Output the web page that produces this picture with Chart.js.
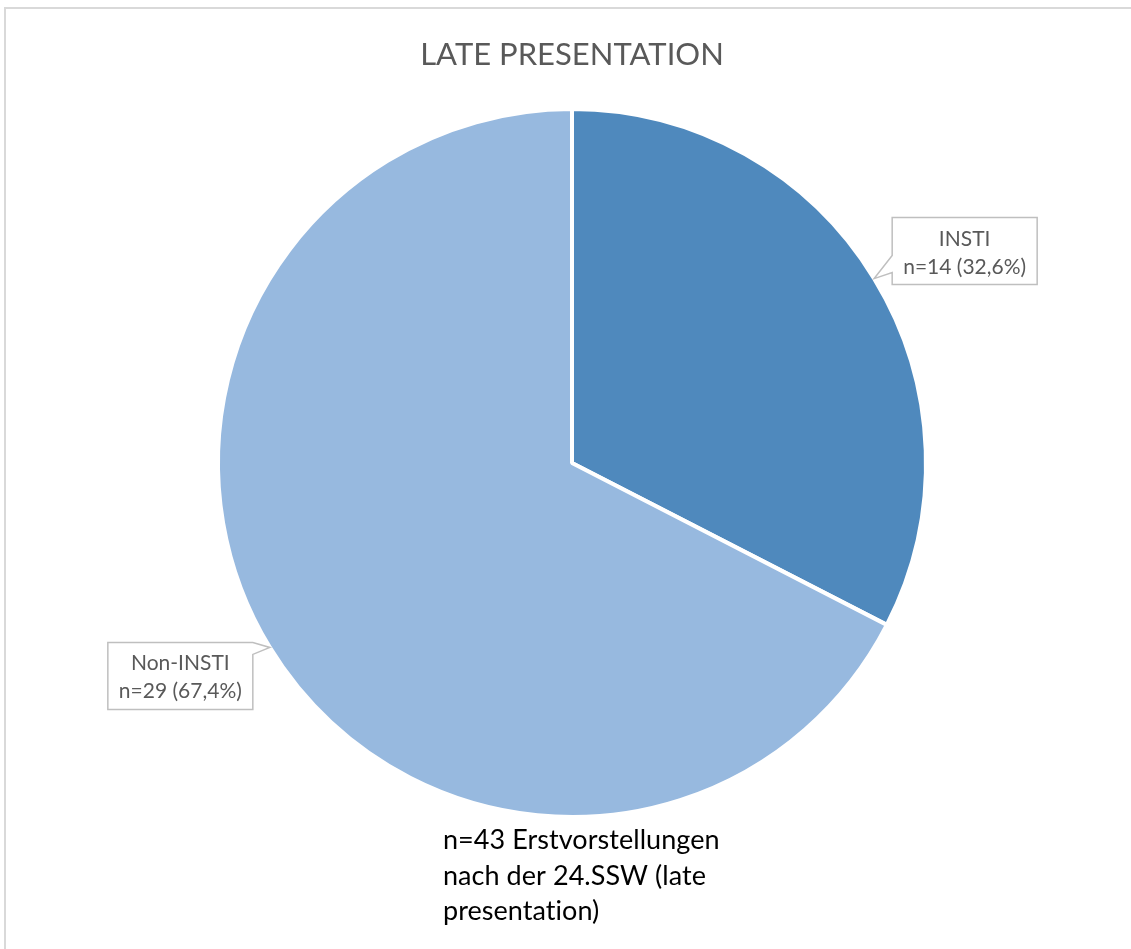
<!DOCTYPE html>
<html lang="de">
<head>
<meta charset="utf-8">
<title>Late Presentation</title>
<script src="https://cdn.jsdelivr.net/npm/chart.js@4/dist/chart.umd.min.js"></script>
<style>
  html, body { margin: 0; padding: 0; background: #fff; }
  #wrap { position: relative; width: 1131px; height: 949px; }
  #frame {
    position: absolute; left: 4px; top: 7px; right: -4px; bottom: -4px;
    border-left: 2px solid #d9d9d9; border-top: 2px solid #d9d9d9;
  }
</style>
</head>
<body>
<div id="wrap">
  <div id="frame"></div>
  <canvas id="chartPie" width="1131" height="949"></canvas>
</div>
<script>
/* -----------------------
   Daten
   ----------------------- */
const labels = ["INSTI", "Non-INSTI"];
const counts = [14, 29];
const percentLabels = ["32,6%", "67,4%"];
const sliceColors = ["#4f89bd", "#97b9df"];

const chartTitle = "LATE PRESENTATION";
const footNote = ["n=43 Erstvorstellungen", "nach der 24.SSW (late", "presentation)"];

const FONT = "Lato, 'Open Sans', sans-serif";
const GREY_TEXT = "#595959";

/* -----------------------
   Callout box with pointer
   ----------------------- */
function drawCallout(ctx, lines, tipX, tipY, side) {
  ctx.save();
  ctx.font = "21px " + FONT;
  const w = Math.max(...lines.map(l => ctx.measureText(l).width)) + 22;
  const h = 67;
  let L, T;
  if (side === "right") {
    // box sits right of the slice, pointer leaves its left edge
    L = tipX + 18;
    T = tipY + 6 - h;
  } else {
    L = tipX - 17 - w;
    T = tipY - 5;
  }
  const R = L + w, B = T + h;

  ctx.beginPath();
  ctx.moveTo(L, T);
  if (side === "right") {
    ctx.lineTo(R, T);
    ctx.lineTo(R, B);
    ctx.lineTo(L, B);
    ctx.lineTo(L, B - 12);
    ctx.lineTo(tipX, tipY);
    ctx.lineTo(L, B - 29);
  } else {
    ctx.lineTo(R, T);
    ctx.lineTo(tipX, tipY);
    ctx.lineTo(R, T + 12);
    ctx.lineTo(R, B);
    ctx.lineTo(L, B);
  }
  ctx.closePath();
  ctx.fillStyle = "#ffffff";
  ctx.fill();
  ctx.lineWidth = 1.5;
  ctx.strokeStyle = "#bfbfbf";
  ctx.stroke();

  ctx.fillStyle = GREY_TEXT;
  ctx.textAlign = "center";
  ctx.textBaseline = "alphabetic";
  const cx = (L + R) / 2;
  ctx.fillText(lines[0], cx, T + 28);
  ctx.fillText(lines[1], cx, T + 56);
  ctx.restore();
}

/* -----------------------
   Plugin: title, callouts, footnote
   ----------------------- */
const decorPlugin = {
  id: "decor",
  afterDraw(chart) {
    const ctx = chart.ctx;
    const meta = chart.getDatasetMeta(0);

    ctx.save();
    ctx.fillStyle = GREY_TEXT;
    ctx.font = "31px " + FONT;
    ctx.textAlign = "center";
    ctx.fillText(chartTitle, 572, 65);
    ctx.restore();

    meta.data.forEach((arc, i) => {
      const p = arc.getProps(["x", "y", "startAngle", "endAngle", "outerRadius"], true);
      const mid = (p.startAngle + p.endAngle) / 2;
      const tx = p.x + Math.cos(mid) * p.outerRadius;
      const ty = p.y + Math.sin(mid) * p.outerRadius;
      const side = Math.cos(mid) >= 0 ? "right" : "left";
      drawCallout(ctx, [labels[i], "n=" + counts[i] + " (" + percentLabels[i] + ")"], tx, ty, side);
    });

    ctx.save();
    ctx.fillStyle = "#000000";
    ctx.font = "27px " + FONT;
    ctx.textAlign = "left";
    // tiny spacing keeps Lato from merging "ti" into a ligature
    if ("letterSpacing" in ctx) ctx.letterSpacing = "0.05px";
    footNote.forEach((line, i) => ctx.fillText(line, 443, 849 + i * 35.5));
    ctx.restore();
  }
};

/* -----------------------
   Build chart
   ----------------------- */
new Chart(document.getElementById("chartPie").getContext("2d"), {
  type: "pie",
  data: {
    labels,
    datasets: [{
      data: counts,
      backgroundColor: sliceColors,
      borderColor: "#ffffff",
      borderWidth: 4
    }]
  },
  options: {
    responsive: false,
    animation: false,
    layout: { padding: { top: 107, bottom: 130, left: 216, right: 203 } },
    plugins: {
      legend: { display: false },
      tooltip: { enabled: false },
      title: { display: false }
    }
  },
  plugins: [decorPlugin]
});
</script>
</body>
</html>
